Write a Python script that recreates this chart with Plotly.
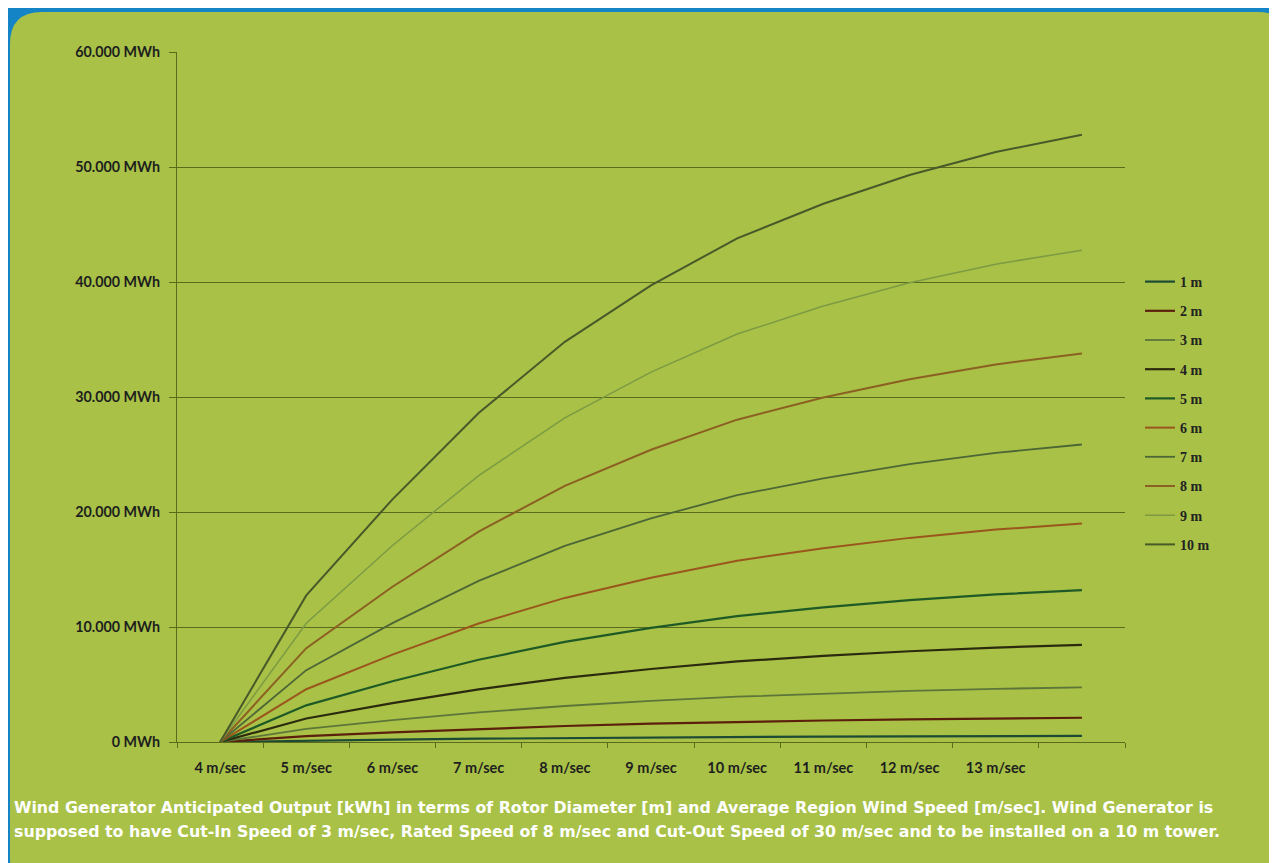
import plotly.graph_objects as go

# ---------------- data ----------------
speed_labels = ["4 m/sec", "5 m/sec", "6 m/sec", "7 m/sec", "8 m/sec", "9 m/sec",
                "10 m/sec", "11 m/sec", "12 m/sec", "13 m/sec", ""]
series_names = ["1 m", "2 m", "3 m", "4 m", "5 m", "6 m", "7 m", "8 m", "9 m", "10 m"]

out_1m = [0, 130, 210, 290, 350, 400, 440, 470, 490, 510, 530]
out_2m = [0, 510, 840, 1140, 1390, 1590, 1750, 1870, 1970, 2050, 2110]
out_3m = [0, 1150, 1900, 2570, 3130, 3570, 3940, 4210, 4440, 4620, 4750]
out_4m = [0, 2040, 3380, 4580, 5570, 6350, 7010, 7490, 7890, 8210, 8450]
out_5m = [0, 3190, 5280, 7150, 8700, 9930, 10950, 11700, 12330, 12830, 13200]
out_6m = [0, 4590, 7600, 10300, 12530, 14290, 15770, 16850, 17750, 18470, 19010]
out_7m = [0, 6250, 10340, 14010, 17050, 19450, 21460, 22930, 24160, 25140, 25870]
out_8m = [0, 8160, 13500, 18300, 22270, 25410, 28030, 29950, 31550, 32830, 33790]
out_9m = [0, 10330, 17090, 23170, 28190, 32160, 35480, 37910, 39930, 41550, 42770]
out_10m = [0, 12750, 21100, 28600, 34800, 39700, 43800, 46800, 49300, 51300, 52800]

y_tick_values = [0, 10000, 20000, 30000, 40000, 50000, 60000]
y_tick_labels = ["0 MWh", "10.000 MWh", "20.000 MWh", "30.000 MWh",
                 "40.000 MWh", "50.000 MWh", "60.000 MWh"]

caption_line1 = ("Wind Generator Anticipated Output [kWh] in terms of Rotor Diameter [m] and "
                 "Average Region Wind Speed [m/sec]. Wind Generator is")
caption_line2 = ("supposed to have Cut-In Speed of 3 m/sec, Rated Speed of 8 m/sec and Cut-Out "
                 "Speed of 30 m/sec and to be installed on a 10 m tower.")

all_series = [out_1m, out_2m, out_3m, out_4m, out_5m, out_6m, out_7m, out_8m, out_9m, out_10m]
colors = ["#1d4a34", "#5b1f0c", "#5d7539", "#2c2a0e", "#1f5a26",
          "#9a561c", "#4d6636", "#8c5f22", "#7d9a44", "#48592a"]
widths = [2.2, 2.2, 1.8, 2.2, 2.2, 2.0, 1.8, 2.0, 1.5, 2.0]

# ---------------- layout geometry (page coords, page has 8px body margin) ----------------
OFF = 8
W, H = 1277 - OFF, 863 - OFF
PL, PR, PT, PB = 177, 1125, 52, 742          # plot area in page pixels
L, R, T, B = PL - OFF, W - (PR - OFF), PT - OFF, H - (PB - OFF)
PW, PH = PR - PL, PB - PT

def px(x):
    return (x - PL) / PW

def py(y):
    return (PB - y) / PH

fig = go.Figure()
x_idx = list(range(len(speed_labels)))
for name, vals, c, w in zip(series_names, all_series, colors, widths):
    fig.add_trace(go.Scatter(x=x_idx, y=vals, mode="lines", name=name,
                             line=dict(color=c, width=w), legendgroup=name))

# background rounded green panel (page coords)
x0, x1, y0, y1, r = 10, 1290, 12, 890, 32
path = (f"M {px(x0+r)},{py(y0)} L {px(x1-r)},{py(y0)} "
        f"Q {px(x1)},{py(y0)} {px(x1)},{py(y0+r)} "
        f"L {px(x1)},{py(y1-r)} Q {px(x1)},{py(y1)} {px(x1-r)},{py(y1)} "
        f"L {px(x0+r)},{py(y1)} Q {px(x0)},{py(y1)} {px(x0)},{py(y1-r)} "
        f"L {px(x0)},{py(y0+r)} Q {px(x0)},{py(y0)} {px(x0+r)},{py(y0)} Z")

grid_c = "#5a6b1e"
fig.update_layout(
    width=W, height=H,
    margin=dict(l=L, r=R, t=T, b=B),
    paper_bgcolor="#1584c6",
    plot_bgcolor="rgba(0,0,0,0)",
    shapes=[dict(type="path", path=path, xref="paper", yref="paper",
                 fillcolor="#a8c146", line=dict(width=0), layer="below")],
    showlegend=True,
    legend=dict(x=px(1140), y=py(266), xanchor="left", yanchor="top",
                bgcolor="rgba(0,0,0,0)", tracegroupgap=8,
                font=dict(family="Liberation Serif", size=14, color="#222222", weight="bold"),
                itemwidth=30),
    annotations=[
        dict(text=caption_line1, xref="paper", yref="paper", x=px(12), y=py(808),
             xanchor="left", yanchor="middle", showarrow=False,
             font=dict(family="DejaVu Sans", size=15.8, color="white", weight="bold")),
        dict(text=caption_line2, xref="paper", yref="paper", x=px(12), y=py(832),
             xanchor="left", yanchor="middle", showarrow=False,
             font=dict(family="DejaVu Sans", size=15.8, color="white", weight="bold")),
    ],
)

fig.update_xaxes(
    range=[-0.5, len(speed_labels) - 0.5],
    tickmode="array", tickvals=x_idx, ticktext=speed_labels, ticks="",
    minor=dict(tickmode="linear", tick0=-0.5, dtick=1, ticks="outside",
               ticklen=5, tickcolor=grid_c, showgrid=False),
    showline=True, linecolor=grid_c, linewidth=1.2, showgrid=False, zeroline=False,
    tickfont=dict(family="Lato", size=14.5, color="#1e1e1e", weight="bold"),
    ticklabelstandoff=12,
)
fig.update_yaxes(
    range=[0, 60000],
    tickmode="array", tickvals=y_tick_values, ticktext=y_tick_labels,
    ticks="outside", ticklen=7, tickcolor=grid_c,
    showline=True, linecolor=grid_c, linewidth=1.2,
    showgrid=True, gridcolor=grid_c, gridwidth=1.2, zeroline=False,
    tickfont=dict(family="Lato", size=14.3, color="#1e1e1e", weight="bold"),
    ticklabelstandoff=6,
)

fig.write_html("out.html")
